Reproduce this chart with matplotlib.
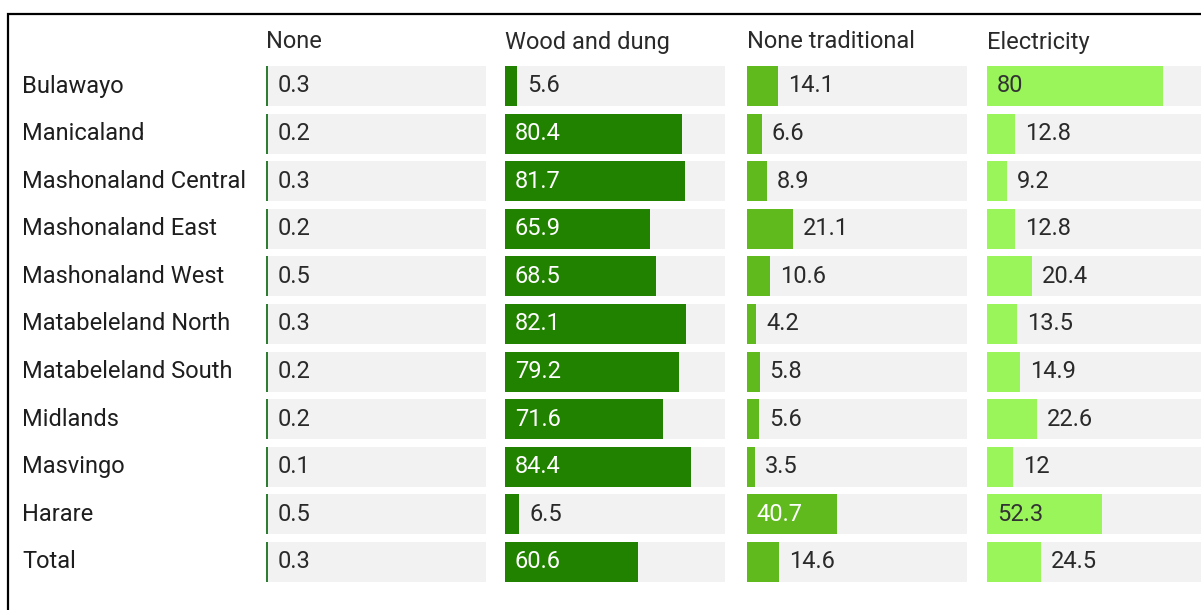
import matplotlib.pyplot as plt
from matplotlib.patches import Rectangle

plt.rcParams['font.family'] = ['Roboto', 'DejaVu Sans']

regions = ["Bulawayo", "Manicaland", "Mashonaland Central", "Mashonaland East",
           "Mashonaland West", "Matabeleland North", "Matabeleland South",
           "Midlands", "Masvingo", "Harare", "Total"]
headers = ["None", "Wood and dung", "None traditional", "Electricity"]
none_vals = [0.3, 0.2, 0.3, 0.2, 0.5, 0.3, 0.2, 0.2, 0.1, 0.5, 0.3]
wood_vals = [5.6, 80.4, 81.7, 65.9, 68.5, 82.1, 79.2, 71.6, 84.4, 6.5, 60.6]
nontrad_vals = [14.1, 6.6, 8.9, 21.1, 10.6, 4.2, 5.8, 5.6, 3.5, 40.7, 14.6]
elec_vals = [80, 12.8, 9.2, 12.8, 20.4, 13.5, 14.9, 22.6, 12, 52.3, 24.5]

series = [none_vals, wood_vals, nontrad_vals, elec_vals]
colors = ["#2e7d32", "#218200", "#60ba1e", "#9af55a"]
label_in = ["white", "white", "white", "#333333"]
FS = 17

W, H = 1201, 610
fig = plt.figure(figsize=(W / 100, H / 100), dpi=100)

# frame round the table (open to the right and bottom)
fig.patches.append(Rectangle((8 / W, -0.1), 1.2, (H - 14) / H + 0.1,
                             transform=fig.transFigure, fill=False,
                             edgecolor="black", linewidth=1.6))

col_x = [266, 505, 747, 987]
col_w = 220
row0, pitch = 86, 47.6
n = len(regions)
top = row0 - pitch / 2
bottom = row0 + pitch * (n - 0.5)

for k, (vals, head) in enumerate(zip(series, headers)):
    ax = fig.add_axes([col_x[k] / W, 1 - bottom / H, col_w / W, (bottom - top) / H])
    ax.set_xlim(0, 100)
    ax.set_ylim(n - 0.5, -0.5)
    ax.axis("off")
    ax.barh(range(n), [100] * n, height=0.84, color="#f2f2f2", zorder=1)
    widths = [max(v, 1.0) for v in vals]
    ax.barh(range(n), widths, height=0.84, color=colors[k], zorder=2)
    for i, v in enumerate(vals):
        txt = f"{v:g}"
        if v >= 40:
            ax.text(4.5, i, txt, va="center", ha="left", fontsize=FS,
                    color=label_in[k], zorder=3)
        else:
            ax.text(widths[i] + 4.5, i, txt, va="center", ha="left",
                    fontsize=FS, color="#2a2a2a", zorder=3)
    fig.text(col_x[k] / W, 1 - 42 / H, head, ha="left", va="center",
             fontsize=FS, color="#2a2a2a")

for i, name in enumerate(regions):
    fig.text(22 / W, 1 - (row0 + i * pitch) / H, name, ha="left", va="center",
             fontsize=FS, color="#1e1e1e")

fig.savefig("out.png", dpi=100)
